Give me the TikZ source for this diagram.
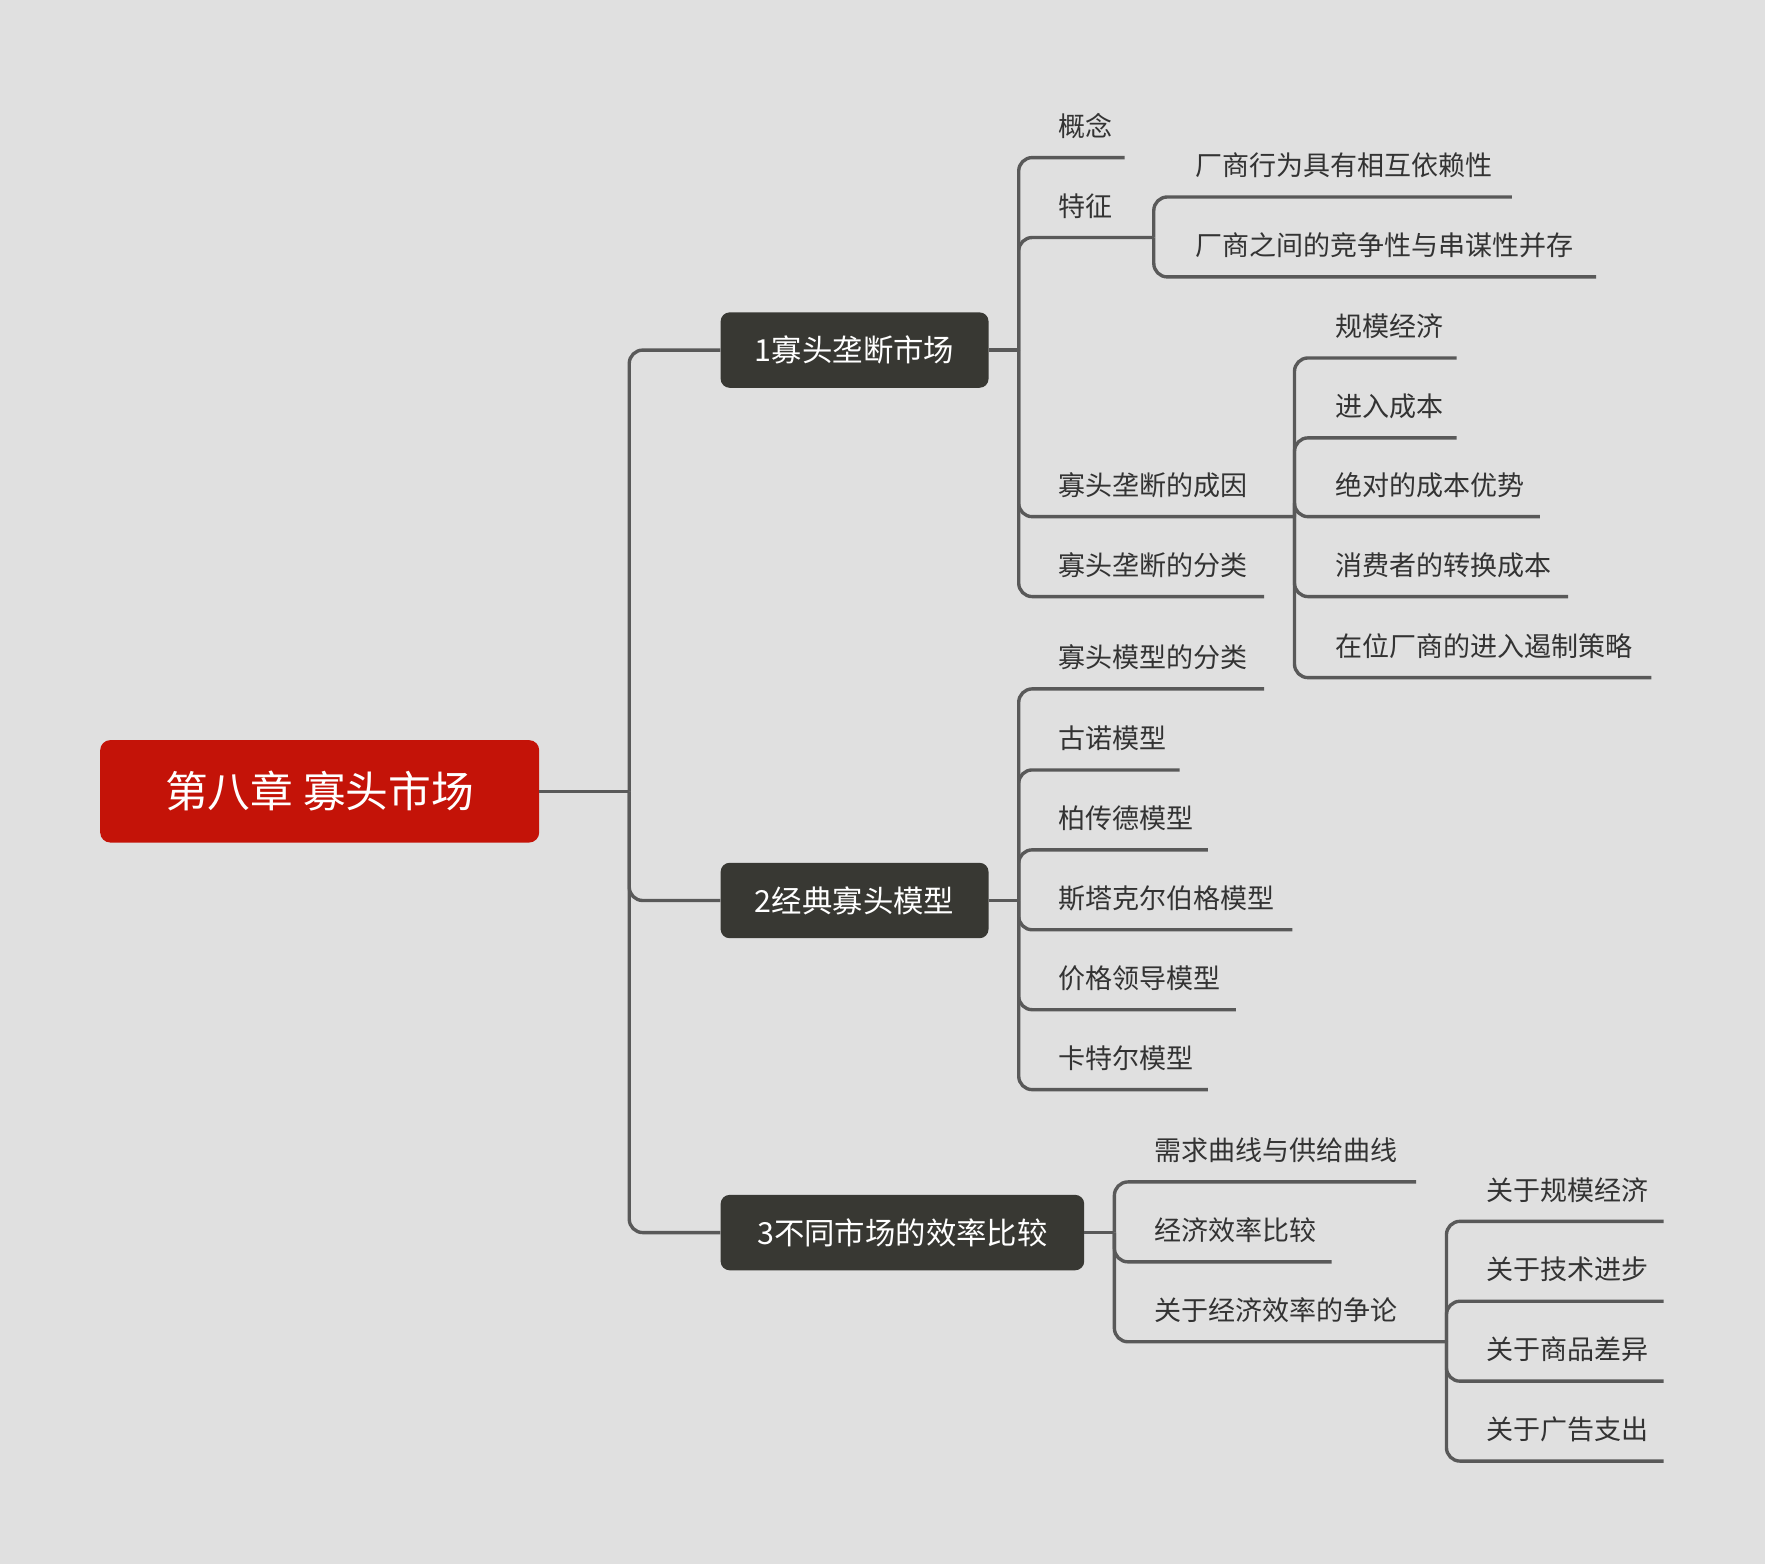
\documentclass[tikz,border=0pt]{standalone}
\usepackage{fontspec}
\setmainfont{Noto Sans CJK SC}
\begin{document}
\begin{tikzpicture}[x=1pt,y=-1pt,
  conn/.style={draw=black!65,line width=3pt,rounded corners=12pt},
  leaf/.style={anchor=west,inner sep=0pt,text=black!80,font=\fontsize{24}{28}\selectfont},
  mid/.style={fill=black!78!olive!60!black,text=white,rounded corners=8pt,font=\fontsize{28}{32}\selectfont,minimum height=67pt,anchor=west,inner xsep=0pt}]
\definecolor{bg}{HTML}{E0E0E0}
\definecolor{rootred}{HTML}{C41308}
\definecolor{dark}{HTML}{383833}
\fill[bg] (0,0) rectangle (1568,1389);
\useasboundingbox (0,0) rectangle (1568,1389);
\newcommand\lf[7]{\node[leaf] (#1) at (#4,#5-28) {#7}; \coordinate (#1e) at (#6,#5); \draw[conn] (#2,#3) -- (#2,#5) -- (#1e);}
% root
\node[fill=rootred,text=white,rounded corners=9pt,minimum width=390pt,minimum height=91pt,font=\fontsize{38}{44}\selectfont] (root) at (284,703) {第八章 寡头市场};
\tikzset{mid/.style={fill=dark,text=white,rounded corners=8pt,font=\fontsize{27}{32}\selectfont,minimum height=67pt,anchor=west,drop shadow={opacity=0.15}}}
\node[fill=dark,text=white,rounded corners=8pt,font=\fontsize{27}{32}\selectfont,minimum height=67pt,minimum width=238pt,anchor=west] (c1) at (640,311) {1寡头垄断市场};
\node[fill=dark,text=white,rounded corners=8pt,font=\fontsize{27}{32}\selectfont,minimum height=67pt,minimum width=238pt,anchor=west] (c2) at (640,800) {2经典寡头模型};
\node[fill=dark,text=white,rounded corners=8pt,font=\fontsize{27}{32}\selectfont,minimum height=67pt,minimum width=323pt,anchor=west] (c3) at (640,1095) {3不同市场的效率比较};
\coordinate (t0) at (559,703);
\draw[conn] (root.east) -- (t0);
\draw[conn] (t0) -- (559,311) -- (c1.west);
\draw[conn] (t0) -- (559,800) -- (c2.west);
\draw[conn] (t0) -- (559,1095) -- (c3.west);
% child 1
\coordinate (t1) at (905,311);
\draw[conn] (c1.east) -- (t1);
\lf{a1}{905}{311}{940}{140}{999}{概念}
\lf{a2}{905}{311}{940}{211}{1025}{特征}
\lf{a21}{1025}{211}{1062}{175}{1343}{厂商行为具有相互依赖性}
\lf{a22}{1025}{211}{1062}{246}{1418}{厂商之间的竞争性与串谋性并存}
\lf{a3}{905}{311}{940}{459}{1150}{寡头垄断的成因}
\lf{a31}{1150}{459}{1186}{318}{1294}{规模经济}
\lf{a32}{1150}{459}{1186}{389}{1294}{进入成本}
\lf{a33}{1150}{459}{1186}{459}{1368}{绝对的成本优势}
\lf{a34}{1150}{459}{1186}{530}{1393}{消费者的转换成本}
\lf{a35}{1150}{459}{1186}{602}{1467}{在位厂商的进入遏制策略}
\lf{a4}{905}{311}{940}{530}{1123}{寡头垄断的分类}
% child 2
\coordinate (t2) at (905,800);
\draw[conn] (c2.east) -- (t2);
\lf{b1}{905}{800}{940}{612}{1123}{寡头模型的分类}
\lf{b2}{905}{800}{940}{684}{1048}{古诺模型}
\lf{b3}{905}{800}{940}{755}{1073}{柏传德模型}
\lf{b4}{905}{800}{940}{826}{1148}{斯塔克尔伯格模型}
\lf{b5}{905}{800}{940}{897}{1098}{价格领导模型}
\lf{b6}{905}{800}{940}{968}{1073}{卡特尔模型}
% child 3
\coordinate (t3) at (990,1095);
\draw[conn] (c3.east) -- (t3);
\lf{d1}{990}{1095}{1025}{1050}{1258}{需求曲线与供给曲线}
\lf{d2}{990}{1095}{1025}{1121}{1183}{经济效率比较}
\lf{d3}{990}{1095}{1025}{1192}{1285}{关于经济效率的争论}
\lf{d31}{1285}{1192}{1320}{1085}{1478}{关于规模经济}
\lf{d32}{1285}{1192}{1320}{1156}{1478}{关于技术进步}
\lf{d33}{1285}{1192}{1320}{1227}{1478}{关于商品差异}
\lf{d34}{1285}{1192}{1320}{1298}{1478}{关于广告支出}
\end{tikzpicture}
\end{document}
